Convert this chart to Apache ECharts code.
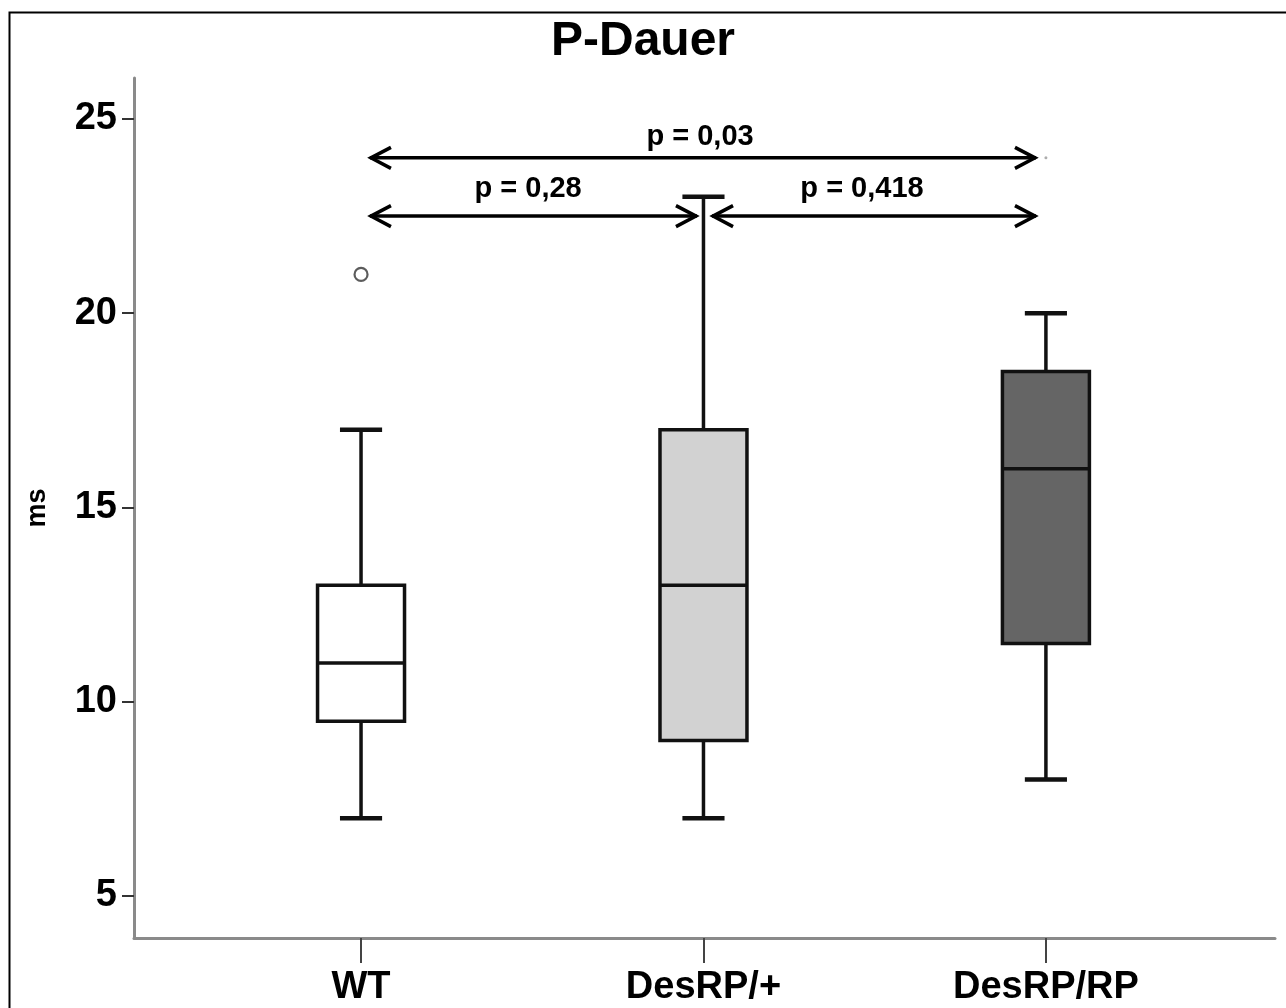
<!DOCTYPE html>
<html>
<head>
<meta charset="utf-8">
<title>P-Dauer</title>
<script src="https://cdn.jsdelivr.net/npm/echarts@6/dist/echarts.min.js"></script>
<style>
  html, body { margin: 0; padding: 0; background: #fff; }
  #chart { width: 1286px; height: 1008px; }
</style>
</head>
<body>
<div id="chart"></div>
<script>
// Groups and box-plot statistics (ms)
const categories = ['WT', 'DesRP/+', 'DesRP/RP'];
const whiskerLow = [7, 7, 8];
const quartile1 = [9.5, 9, 11.5];
const medians = [11, 13, 16];
const quartile3 = [13, 17, 18.5];
const whiskerHigh = [17, 23, 20];
// Outliers as [group index, value]
const outliers = [[0, 21]];
const extremes = [[2, 24]];
// Y axis tick values
const yTicks = [5, 10, 15, 20, 25];
// Pairwise comparisons: from group, to group, height (ms), p-value text and its anchor
const compFrom = [0.026, 0.026, 1.025];
const compTo = [1.971, 0.981, 1.971];
const compLevel = [24.0, 22.5, 22.5];
const compText = ['p = 0,03', 'p = 0,28', 'p = 0,418'];
const compLabelX = [0.99, 0.488, 1.463];
const compLabelY = [24.54, 23.19, 23.19];

const boxFills = ['#ffffff', '#d2d2d2', '#656565'];
const FONT = '"Liberation Sans", Arial, sans-serif';

const chart = echarts.init(document.getElementById('chart'), null, { renderer: 'canvas' });

const boxData = categories.map((c, i) =>
  [i, whiskerLow[i], quartile1[i], medians[i], quartile3[i], whiskerHigh[i]]);
const compData = compText.map((t, i) =>
  [compFrom[i], compTo[i], compLevel[i], i, compLabelX[i], compLabelY[i]]);

function renderBox(params, api) {
  const i = api.value(0);
  const cx = api.coord([i, 0])[0];
  const yLow = api.coord([i, api.value(1)])[1];
  const yQ1 = api.coord([i, api.value(2)])[1];
  const yMed = api.coord([i, api.value(3)])[1];
  const yQ3 = api.coord([i, api.value(4)])[1];
  const yHigh = api.coord([i, api.value(5)])[1];
  const halfW = api.size([0.254, 0])[0] / 2;
  const capHalf = api.size([0.123, 0])[0] / 2;
  const stroke = { stroke: '#111', lineWidth: 3.5 };
  return {
    type: 'group',
    children: [
      { type: 'line', shape: { x1: cx, y1: yQ1, x2: cx, y2: yLow }, style: stroke },
      { type: 'line', shape: { x1: cx, y1: yQ3, x2: cx, y2: yHigh }, style: stroke },
      { type: 'line', shape: { x1: cx - capHalf, y1: yLow, x2: cx + capHalf, y2: yLow }, style: { stroke: '#111', lineWidth: 4.5 } },
      { type: 'line', shape: { x1: cx - capHalf, y1: yHigh, x2: cx + capHalf, y2: yHigh }, style: { stroke: '#111', lineWidth: 4.5 } },
      { type: 'rect', shape: { x: cx - halfW, y: yQ3, width: halfW * 2, height: yQ1 - yQ3 },
        style: { fill: boxFills[i], stroke: '#111', lineWidth: 3.5 } },
      { type: 'line', shape: { x1: cx - halfW, y1: yMed, x2: cx + halfW, y2: yMed }, style: stroke }
    ]
  };
}

function renderComparison(params, api) {
  const p1 = api.coord([api.value(0), api.value(2)]);
  const p2 = api.coord([api.value(1), api.value(2)]);
  const idx = api.value(3);
  const lp = api.coord([api.value(4), api.value(5)]);
  const head = 21, spread = 10.5;
  const st = { stroke: '#000', lineWidth: 3.5, fill: null, lineJoin: 'miter' };
  return {
    type: 'group',
    children: [
      { type: 'line', shape: { x1: p1[0], y1: p1[1], x2: p2[0], y2: p2[1] }, style: st },
      { type: 'polyline', shape: { points: [[p1[0] + head, p1[1] - spread], [p1[0] + 1, p1[1]], [p1[0] + head, p1[1] + spread]] }, style: st },
      { type: 'polyline', shape: { points: [[p2[0] - head, p2[1] - spread], [p2[0] - 1, p2[1]], [p2[0] - head, p2[1] + spread]] }, style: st },
      { type: 'text', x: lp[0], y: lp[1],
        style: { text: compText[idx], fill: '#000', font: 'bold 29px ' + FONT, align: 'center', verticalAlign: 'middle' } }
    ]
  };
}

const option = {
  backgroundColor: '#ffffff',
  animation: false,
  title: {
    text: 'P-Dauer',
    left: 'center',
    top: 13,
    textStyle: { fontFamily: FONT, fontWeight: 'bold', fontSize: 48, color: '#000' }
  },
  graphic: [
    { type: 'rect', left: 7, top: 10, shape: { width: 1300, height: 1020 },
      style: { fill: null, stroke: '#000', lineWidth: 2 }, silent: true }
  ],
  grid: { left: 134, right: 11, top: 78, bottom: 70 },
  xAxis: {
    type: 'value',
    min: -0.663,
    max: 2.669,
    splitLine: { show: false },
    axisLine: { show: true, onZero: false, lineStyle: { color: '#8a8a8a', width: 3 } },
    axisTick: { show: true, customValues: [0, 1, 2], length: 25, lineStyle: { color: '#444', width: 2 } },
    axisLabel: {
      customValues: [0, 1, 2],
      formatter: v => categories[Math.round(v)],
      margin: 31,
      fontFamily: FONT, fontWeight: 'bold', fontSize: 38, color: '#000'
    }
  },
  yAxis: {
    type: 'value',
    min: 3.919,
    max: 26.055,
    name: 'ms',
    nameLocation: 'middle',
    nameGap: 83,
    nameTextStyle: { fontFamily: FONT, fontWeight: 'bold', fontSize: 27, color: '#000' },
    splitLine: { show: false },
    axisLine: { show: true, onZero: false, lineStyle: { color: '#8a8a8a', width: 3 } },
    axisTick: { show: true, customValues: yTicks, length: 12, lineStyle: { color: '#333', width: 2 } },
    axisLabel: {
      customValues: yTicks,
      margin: 17,
      fontFamily: FONT, fontWeight: 'bold', fontSize: 38, color: '#000'
    }
  },
  series: [
    {
      type: 'custom',
      name: 'box',
      renderItem: renderBox,
      encode: { x: 0, y: [1, 2, 3, 4, 5] },
      data: boxData,
      clip: false,
      z: 2
    },
    {
      type: 'scatter',
      name: 'outliers',
      data: outliers,
      symbol: 'circle',
      symbolSize: 13,
      itemStyle: { color: '#fff', borderColor: '#333', borderWidth: 2.2 },
      z: 3
    },
    {
      type: 'scatter',
      name: 'extremes',
      data: extremes,
      symbol: 'circle',
      symbolSize: 3,
      itemStyle: { color: '#999' },
      z: 3
    },
    {
      type: 'custom',
      name: 'comparisons',
      renderItem: renderComparison,
      encode: { x: [0, 1, 4], y: [2, 5] },
      data: compData,
      clip: false,
      z: 4
    }
  ]
};

chart.setOption(option);
</script>
</body>
</html>
